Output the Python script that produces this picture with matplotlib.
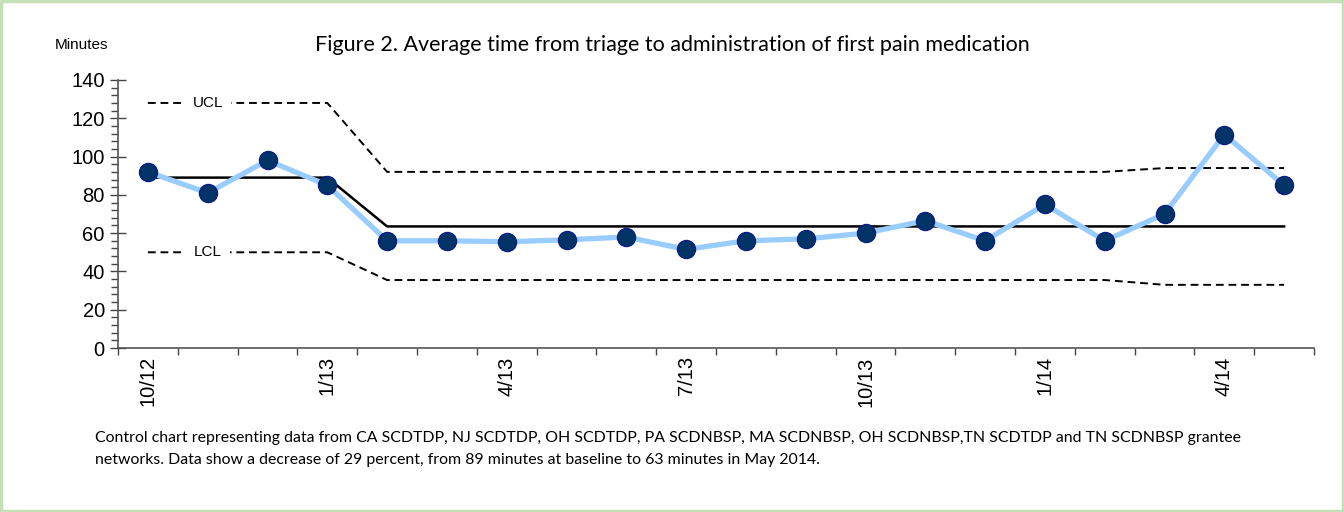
import numpy as np
import matplotlib.pyplot as plt
from matplotlib.ticker import MultipleLocator, FixedLocator
from matplotlib.patches import Rectangle

# monthly data, Oct 2012 - May 2014
months = ["10/12", "11/12", "12/12", "1/13", "2/13", "3/13", "4/13", "5/13", "6/13", "7/13",
          "8/13", "9/13", "10/13", "11/13", "12/13", "1/14", "2/14", "3/14", "4/14", "5/14"]
avg_minutes = [92, 81, 98, 85, 56, 56, 55.5, 56.5, 58, 51.5,
               56, 57, 60, 66.5, 56, 75, 56, 70, 111.5, 85]
centre = [89, 89, 89, 89] + [63.5] * 16
ucl = [128, 128, 128, 128] + [92] * 13 + [94, 94, 94]
lcl = [50, 50, 50, 50] + [35.5] * 13 + [33, 33, 33]
shown_labels = ["10/12", "1/13", "4/13", "7/13", "10/13", "1/14", "4/14"]

x = np.arange(len(months))

fig = plt.figure(figsize=(13.44, 5.12), dpi=100)
ax = fig.add_axes([0.0878, 0.3203, 0.8899, 0.5235])

dash = (0, (4, 2.5))
ax.plot(x, ucl, color="black", lw=1.4, linestyle=dash, zorder=2)
ax.plot(x, lcl, color="black", lw=1.4, linestyle=dash, zorder=2)
ax.plot(x, centre, color="black", lw=1.8, zorder=3)
ax.plot(x, avg_minutes, color="#99ccff", lw=3.8, zorder=4)
ax.plot(x, avg_minutes, linestyle="none", marker="o", markersize=13,
        markerfacecolor="#003366", markeredgecolor="#0a1f80", markeredgewidth=1, zorder=5)

for lab, yv in (("UCL", ucl[1]), ("LCL", lcl[1])):
    ax.text(1.0, yv, lab, ha="center", va="center", fontsize=11,
            family="Liberation Sans", zorder=6,
            bbox=dict(facecolor="white", edgecolor="none", pad=6))

ax.set_xlim(-0.5, len(months) - 0.5)
ax.set_ylim(0, 140)
ax.yaxis.set_major_locator(MultipleLocator(20))
ax.yaxis.set_minor_locator(MultipleLocator(4))
ax.xaxis.set_major_locator(FixedLocator(np.arange(len(months) + 1) - 0.5))
ax.set_xticklabels([])
ax.set_xticks([months.index(m) for m in shown_labels], minor=True)
ax.set_xticklabels(shown_labels, minor=True, rotation=90, fontsize=14.5,
                   family="Liberation Sans")
ax.tick_params(axis="x", which="minor", length=0, pad=6)
ax.tick_params(axis="x", which="major", length=5, width=1, color="#444444")
ax.tick_params(axis="y", which="major", direction="inout", length=11, width=1,
               labelsize=14.5, pad=4, color="#444444")
ax.tick_params(axis="y", which="minor", direction="out", length=5, width=1, color="#444444")
for lbl in ax.get_yticklabels():
    lbl.set_family("Liberation Sans")

for s in ("top", "right"):
    ax.spines[s].set_visible(False)
for s in ("left", "bottom"):
    ax.spines[s].set_color("#555555")
    ax.spines[s].set_linewidth(1.2)

fig.text(0.041, 0.912, "Minutes", fontsize=11, family="Liberation Sans", va="center")
fig.text(0.5, 0.912, "Figure 2. Average time from triage to administration of first pain medication",
         fontsize=15.5, family="Lato", ha="center", va="center")
fig.text(0.0707, 0.123,
         "Control chart representing data from CA SCDTDP, NJ SCDTDP, OH SCDTDP, PA SCDNBSP, MA SCDNBSP, "
         "OH SCDNBSP,TN SCDTDP and TN SCDNBSP grantee\nnetworks. Data show a decrease of 29 percent, "
         "from 89 minutes at baseline to 63 minutes in May 2014.",
         fontsize=11.4, family="Lato", va="center", linespacing=1.65)

fig.patches.append(Rectangle((0.001, 0.002), 0.998, 0.996, transform=fig.transFigure,
                             fill=False, edgecolor="#c5e0b4", linewidth=2.5))

fig.savefig("out.png", dpi=100)
